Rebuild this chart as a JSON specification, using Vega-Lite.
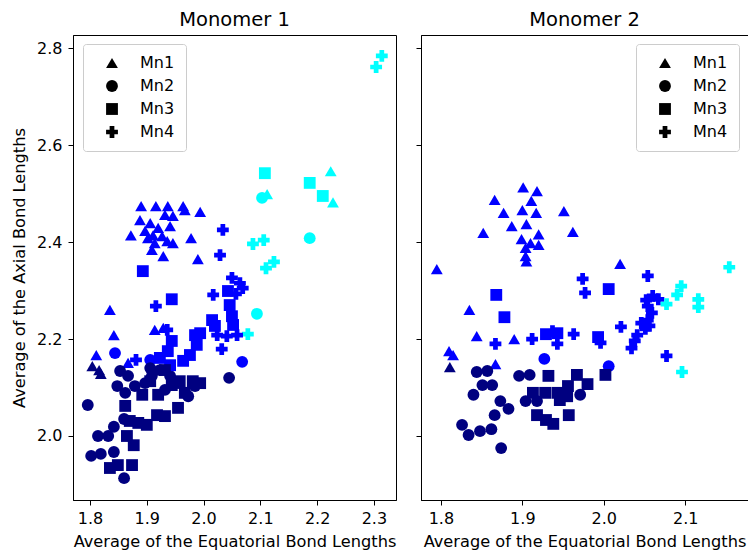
{
 "$schema": "https://vega.github.io/schema/vega-lite/v6.json",
 "padding": {"left": 11, "top": 9, "right": 0, "bottom": 0},
 "bounds": "flush",
 "spacing": 25,
 "datasets": {
  "pts": [
   {"p":1,"site":"Mn1","g":"b","x":1.890,"y":2.474},{"p":1,"site":"Mn1","g":"b","x":1.916,"y":2.474},{"p":1,"site":"Mn1","g":"b","x":1.937,"y":2.474},{"p":1,"site":"Mn1","g":"b","x":1.964,"y":2.474},{"p":1,"site":"Mn1","g":"b","x":1.967,"y":2.466},{"p":1,"site":"Mn1","g":"b","x":1.994,"y":2.462},{"p":1,"site":"Mn1","g":"b","x":1.888,"y":2.445},{"p":1,"site":"Mn1","g":"b","x":1.906,"y":2.439},{"p":1,"site":"Mn1","g":"b","x":1.932,"y":2.456},{"p":1,"site":"Mn1","g":"b","x":1.946,"y":2.454},{"p":1,"site":"Mn1","g":"b","x":1.872,"y":2.414},{"p":1,"site":"Mn1","g":"b","x":1.897,"y":2.423},{"p":1,"site":"Mn1","g":"b","x":1.911,"y":2.414},{"p":1,"site":"Mn1","g":"b","x":1.927,"y":2.412},{"p":1,"site":"Mn1","g":"b","x":1.936,"y":2.402},{"p":1,"site":"Mn1","g":"b","x":1.946,"y":2.398},{"p":1,"site":"Mn1","g":"b","x":1.978,"y":2.408},{"p":1,"site":"Mn1","g":"b","x":1.909,"y":2.384},{"p":1,"site":"Mn1","g":"b","x":1.929,"y":2.371},{"p":1,"site":"Mn1","g":"b","x":1.990,"y":2.365},{"p":1,"site":"Mn1","g":"b","x":1.902,"y":2.408},{"p":1,"site":"Mn1","g":"b","x":1.920,"y":2.429},{"p":1,"site":"Mn1","g":"b","x":1.941,"y":2.433},{"p":1,"site":"Mn1","g":"b","x":1.914,"y":2.398},
   {"p":1,"site":"Mn1","g":"b","x":1.835,"y":2.260},{"p":1,"site":"Mn1","g":"b","x":1.842,"y":2.208},{"p":1,"site":"Mn1","g":"b","x":1.811,"y":2.167},{"p":1,"site":"Mn1","g":"b","x":1.867,"y":2.151},{"p":1,"site":"Mn1","g":"b","x":1.914,"y":2.219},{"p":1,"site":"Mn1","g":"b","x":1.929,"y":2.223},
   {"p":1,"site":"Mn1","g":"n","x":1.804,"y":2.144},{"p":1,"site":"Mn1","g":"n","x":1.816,"y":2.136},{"p":1,"site":"Mn1","g":"n","x":1.819,"y":2.128},
   {"p":1,"site":"Mn1","g":"c","x":2.224,"y":2.546},{"p":1,"site":"Mn1","g":"c","x":2.228,"y":2.482},{"p":1,"site":"Mn1","g":"c","x":2.112,"y":2.499},
   {"p":1,"site":"Mn2","g":"c","x":2.103,"y":2.491},{"p":1,"site":"Mn2","g":"c","x":2.187,"y":2.408},{"p":1,"site":"Mn2","g":"c","x":2.094,"y":2.252},
   {"p":1,"site":"Mn2","g":"b","x":1.844,"y":2.171},{"p":1,"site":"Mn2","g":"b","x":1.906,"y":2.157},{"p":1,"site":"Mn2","g":"b","x":2.068,"y":2.153},
   {"p":1,"site":"Mn2","g":"n","x":2.045,"y":2.120},{"p":1,"site":"Mn2","g":"n","x":1.796,"y":2.064},{"p":1,"site":"Mn2","g":"n","x":1.814,"y":2.000},{"p":1,"site":"Mn2","g":"n","x":1.832,"y":2.000},{"p":1,"site":"Mn2","g":"n","x":1.842,"y":2.019},{"p":1,"site":"Mn2","g":"n","x":1.802,"y":1.959},{"p":1,"site":"Mn2","g":"n","x":1.819,"y":1.963},{"p":1,"site":"Mn2","g":"n","x":1.842,"y":1.967},{"p":1,"site":"Mn2","g":"n","x":1.860,"y":1.913},{"p":1,"site":"Mn2","g":"n","x":1.853,"y":2.134},{"p":1,"site":"Mn2","g":"n","x":1.848,"y":2.103},{"p":1,"site":"Mn2","g":"n","x":1.860,"y":2.035},{"p":1,"site":"Mn2","g":"n","x":1.867,"y":2.124},{"p":1,"site":"Mn2","g":"n","x":1.879,"y":2.103},{"p":1,"site":"Mn2","g":"n","x":1.897,"y":2.109},{"p":1,"site":"Mn2","g":"n","x":1.909,"y":2.124},{"p":1,"site":"Mn2","g":"n","x":1.923,"y":2.136},{"p":1,"site":"Mn2","g":"n","x":1.941,"y":2.124},{"p":1,"site":"Mn2","g":"n","x":1.955,"y":2.109},{"p":1,"site":"Mn2","g":"n","x":1.973,"y":2.082},{"p":1,"site":"Mn2","g":"n","x":1.985,"y":2.103},{"p":1,"site":"Mn2","g":"n","x":1.862,"y":2.089},{"p":1,"site":"Mn2","g":"n","x":1.932,"y":2.095},{"p":1,"site":"Mn2","g":"n","x":1.906,"y":2.140},
   {"p":1,"site":"Mn3","g":"c","x":2.108,"y":2.542},{"p":1,"site":"Mn3","g":"c","x":2.187,"y":2.522},{"p":1,"site":"Mn3","g":"c","x":2.210,"y":2.495},
   {"p":1,"site":"Mn3","g":"b","x":1.893,"y":2.340},{"p":1,"site":"Mn3","g":"b","x":1.944,"y":2.282},{"p":1,"site":"Mn3","g":"b","x":2.015,"y":2.239},{"p":1,"site":"Mn3","g":"b","x":2.046,"y":2.270},{"p":1,"site":"Mn3","g":"b","x":2.050,"y":2.247},{"p":1,"site":"Mn3","g":"b","x":2.043,"y":2.299},{"p":1,"site":"Mn3","g":"b","x":2.020,"y":2.227},{"p":1,"site":"Mn3","g":"b","x":1.985,"y":2.208},{"p":1,"site":"Mn3","g":"b","x":1.988,"y":2.188},{"p":1,"site":"Mn3","g":"b","x":1.976,"y":2.167},{"p":1,"site":"Mn3","g":"b","x":1.964,"y":2.155},{"p":1,"site":"Mn3","g":"b","x":1.941,"y":2.146},{"p":1,"site":"Mn3","g":"b","x":1.923,"y":2.161},{"p":1,"site":"Mn3","g":"b","x":1.944,"y":2.196},{"p":1,"site":"Mn3","g":"b","x":1.937,"y":2.175},{"p":1,"site":"Mn3","g":"b","x":1.994,"y":2.212},{"p":1,"site":"Mn3","g":"b","x":2.052,"y":2.229},
   {"p":1,"site":"Mn3","g":"n","x":1.862,"y":2.062},{"p":1,"site":"Mn3","g":"n","x":1.870,"y":2.031},{"p":1,"site":"Mn3","g":"n","x":1.885,"y":2.027},{"p":1,"site":"Mn3","g":"n","x":1.900,"y":2.023},{"p":1,"site":"Mn3","g":"n","x":1.865,"y":2.000},{"p":1,"site":"Mn3","g":"n","x":1.877,"y":1.981},{"p":1,"site":"Mn3","g":"n","x":1.835,"y":1.934},{"p":1,"site":"Mn3","g":"n","x":1.849,"y":1.940},{"p":1,"site":"Mn3","g":"n","x":1.874,"y":1.940},{"p":1,"site":"Mn3","g":"n","x":1.918,"y":2.043},{"p":1,"site":"Mn3","g":"n","x":1.932,"y":2.041},{"p":1,"site":"Mn3","g":"n","x":1.920,"y":2.085},{"p":1,"site":"Mn3","g":"n","x":1.955,"y":2.058},{"p":1,"site":"Mn3","g":"n","x":1.944,"y":2.105},{"p":1,"site":"Mn3","g":"n","x":1.892,"y":2.085},{"p":1,"site":"Mn3","g":"n","x":1.906,"y":2.113},{"p":1,"site":"Mn3","g":"n","x":1.932,"y":2.136},{"p":1,"site":"Mn3","g":"n","x":1.958,"y":2.113},{"p":1,"site":"Mn3","g":"n","x":1.981,"y":2.113},{"p":1,"site":"Mn3","g":"n","x":1.994,"y":2.109},{"p":1,"site":"Mn3","g":"n","x":1.967,"y":2.089},
   {"p":1,"site":"Mn4","g":"c","x":2.314,"y":2.784},{"p":1,"site":"Mn4","g":"c","x":2.304,"y":2.761},{"p":1,"site":"Mn4","g":"c","x":2.087,"y":2.396},{"p":1,"site":"Mn4","g":"c","x":2.106,"y":2.404},{"p":1,"site":"Mn4","g":"c","x":2.110,"y":2.346},{"p":1,"site":"Mn4","g":"c","x":2.124,"y":2.359},{"p":1,"site":"Mn4","g":"c","x":2.078,"y":2.210},
   {"p":1,"site":"Mn4","g":"b","x":2.034,"y":2.425},{"p":1,"site":"Mn4","g":"b","x":2.029,"y":2.373},{"p":1,"site":"Mn4","g":"b","x":1.916,"y":2.268},{"p":1,"site":"Mn4","g":"b","x":2.017,"y":2.291},{"p":1,"site":"Mn4","g":"b","x":2.050,"y":2.326},{"p":1,"site":"Mn4","g":"b","x":2.064,"y":2.315},{"p":1,"site":"Mn4","g":"b","x":2.069,"y":2.305},{"p":1,"site":"Mn4","g":"b","x":2.032,"y":2.179},{"p":1,"site":"Mn4","g":"b","x":2.024,"y":2.208},{"p":1,"site":"Mn4","g":"b","x":2.041,"y":2.206},{"p":1,"site":"Mn4","g":"b","x":2.059,"y":2.208},{"p":1,"site":"Mn4","g":"b","x":1.881,"y":2.157},{"p":1,"site":"Mn4","g":"b","x":1.936,"y":2.219},{"p":1,"site":"Mn4","g":"b","x":2.057,"y":2.293},
   {"p":2,"site":"Mn1","g":"b","x":1.901,"y":2.513},{"p":2,"site":"Mn1","g":"b","x":1.918,"y":2.505},{"p":2,"site":"Mn1","g":"b","x":1.866,"y":2.487},{"p":2,"site":"Mn1","g":"b","x":1.911,"y":2.485},{"p":2,"site":"Mn1","g":"b","x":1.877,"y":2.460},{"p":2,"site":"Mn1","g":"b","x":1.900,"y":2.466},{"p":2,"site":"Mn1","g":"b","x":1.917,"y":2.460},{"p":2,"site":"Mn1","g":"b","x":1.951,"y":2.464},{"p":2,"site":"Mn1","g":"b","x":1.887,"y":2.433},{"p":2,"site":"Mn1","g":"b","x":1.905,"y":2.437},{"p":2,"site":"Mn1","g":"b","x":1.852,"y":2.419},{"p":2,"site":"Mn1","g":"b","x":1.962,"y":2.421},{"p":2,"site":"Mn1","g":"b","x":1.899,"y":2.406},{"p":2,"site":"Mn1","g":"b","x":1.920,"y":2.416},{"p":2,"site":"Mn1","g":"b","x":1.910,"y":2.398},{"p":2,"site":"Mn1","g":"b","x":1.920,"y":2.394},{"p":2,"site":"Mn1","g":"b","x":1.904,"y":2.388},{"p":2,"site":"Mn1","g":"b","x":1.904,"y":2.371},{"p":2,"site":"Mn1","g":"b","x":1.905,"y":2.360},{"p":2,"site":"Mn1","g":"b","x":1.795,"y":2.344},{"p":2,"site":"Mn1","g":"b","x":1.835,"y":2.260},{"p":2,"site":"Mn1","g":"b","x":1.844,"y":2.206},{"p":2,"site":"Mn1","g":"b","x":1.890,"y":2.200},{"p":2,"site":"Mn1","g":"b","x":1.810,"y":2.175},{"p":2,"site":"Mn1","g":"b","x":1.815,"y":2.167},{"p":2,"site":"Mn1","g":"b","x":1.867,"y":2.148},{"p":2,"site":"Mn1","g":"b","x":2.020,"y":2.355},
   {"p":2,"site":"Mn1","g":"n","x":1.811,"y":2.142},
   {"p":2,"site":"Mn2","g":"b","x":1.927,"y":2.159},{"p":2,"site":"Mn2","g":"b","x":2.006,"y":2.144},
   {"p":2,"site":"Mn2","g":"n","x":1.844,"y":2.132},{"p":2,"site":"Mn2","g":"n","x":1.857,"y":2.134},{"p":2,"site":"Mn2","g":"n","x":1.863,"y":2.105},{"p":2,"site":"Mn2","g":"n","x":1.851,"y":2.105},{"p":2,"site":"Mn2","g":"n","x":1.840,"y":2.085},{"p":2,"site":"Mn2","g":"n","x":1.873,"y":2.072},{"p":2,"site":"Mn2","g":"n","x":1.883,"y":2.056},{"p":2,"site":"Mn2","g":"n","x":1.866,"y":2.043},{"p":2,"site":"Mn2","g":"n","x":1.826,"y":2.023},{"p":2,"site":"Mn2","g":"n","x":1.834,"y":2.002},{"p":2,"site":"Mn2","g":"n","x":1.848,"y":2.010},{"p":2,"site":"Mn2","g":"n","x":1.862,"y":2.014},{"p":2,"site":"Mn2","g":"n","x":1.874,"y":1.975},{"p":2,"site":"Mn2","g":"n","x":1.896,"y":2.124},{"p":2,"site":"Mn2","g":"n","x":1.909,"y":2.126},{"p":2,"site":"Mn2","g":"n","x":1.904,"y":2.072},{"p":2,"site":"Mn2","g":"n","x":1.918,"y":2.072},{"p":2,"site":"Mn2","g":"n","x":1.971,"y":2.085},
   {"p":2,"site":"Mn3","g":"b","x":1.868,"y":2.291},{"p":2,"site":"Mn3","g":"b","x":1.878,"y":2.245},{"p":2,"site":"Mn3","g":"b","x":1.929,"y":2.210},{"p":2,"site":"Mn3","g":"b","x":1.943,"y":2.212},{"p":2,"site":"Mn3","g":"b","x":1.993,"y":2.204},{"p":2,"site":"Mn3","g":"b","x":2.006,"y":2.303},
   {"p":2,"site":"Mn3","g":"n","x":1.932,"y":2.124},{"p":2,"site":"Mn3","g":"n","x":1.967,"y":2.126},{"p":2,"site":"Mn3","g":"n","x":1.980,"y":2.107},{"p":2,"site":"Mn3","g":"n","x":1.913,"y":2.089},{"p":2,"site":"Mn3","g":"n","x":1.928,"y":2.089},{"p":2,"site":"Mn3","g":"n","x":1.943,"y":2.089},{"p":2,"site":"Mn3","g":"n","x":1.956,"y":2.103},{"p":2,"site":"Mn3","g":"n","x":1.918,"y":2.043},{"p":2,"site":"Mn3","g":"n","x":1.929,"y":2.033},{"p":2,"site":"Mn3","g":"n","x":1.938,"y":2.025},{"p":2,"site":"Mn3","g":"n","x":1.957,"y":2.043},{"p":2,"site":"Mn3","g":"n","x":1.955,"y":2.082},{"p":2,"site":"Mn3","g":"n","x":2.002,"y":2.126},{"p":2,"site":"Mn3","g":"n","x":1.946,"y":2.074},
   {"p":2,"site":"Mn4","g":"b","x":1.974,"y":2.324},{"p":2,"site":"Mn4","g":"b","x":1.977,"y":2.295},{"p":2,"site":"Mn4","g":"b","x":1.867,"y":2.190},{"p":2,"site":"Mn4","g":"b","x":1.912,"y":2.200},{"p":2,"site":"Mn4","g":"b","x":1.937,"y":2.216},{"p":2,"site":"Mn4","g":"b","x":1.943,"y":2.190},{"p":2,"site":"Mn4","g":"b","x":1.963,"y":2.210},{"p":2,"site":"Mn4","g":"b","x":2.054,"y":2.330},{"p":2,"site":"Mn4","g":"b","x":2.077,"y":2.165},{"p":2,"site":"Mn4","g":"b","x":2.021,"y":2.225},{"p":2,"site":"Mn4","g":"b","x":1.996,"y":2.192},{"p":2,"site":"Mn4","g":"b","x":2.052,"y":2.280},{"p":2,"site":"Mn4","g":"b","x":2.060,"y":2.289},{"p":2,"site":"Mn4","g":"b","x":2.067,"y":2.282},{"p":2,"site":"Mn4","g":"b","x":2.054,"y":2.268},{"p":2,"site":"Mn4","g":"b","x":2.059,"y":2.254},{"p":2,"site":"Mn4","g":"b","x":2.054,"y":2.239},{"p":2,"site":"Mn4","g":"b","x":2.046,"y":2.233},{"p":2,"site":"Mn4","g":"b","x":2.056,"y":2.227},{"p":2,"site":"Mn4","g":"b","x":2.041,"y":2.208},{"p":2,"site":"Mn4","g":"b","x":2.038,"y":2.196},{"p":2,"site":"Mn4","g":"b","x":2.034,"y":2.181},{"p":2,"site":"Mn4","g":"b","x":2.051,"y":2.221},
   {"p":2,"site":"Mn4","g":"c","x":2.154,"y":2.348},{"p":2,"site":"Mn4","g":"c","x":2.095,"y":2.309},{"p":2,"site":"Mn4","g":"c","x":2.090,"y":2.291},{"p":2,"site":"Mn4","g":"c","x":2.077,"y":2.272},{"p":2,"site":"Mn4","g":"c","x":2.116,"y":2.282},{"p":2,"site":"Mn4","g":"c","x":2.116,"y":2.266},{"p":2,"site":"Mn4","g":"c","x":2.096,"y":2.132}
  ]
 },
 "config": {
  "font": "DejaVu Sans",
  "view": {"stroke": "black", "strokeWidth": 1},
  "axis": {"grid": false, "domainColor": "black", "tickColor": "black", "labelColor": "black", "titleColor": "black", "labelFontSize": 16, "titleFontSize": 16.2, "titleFontWeight": "normal", "tickSize": 5, "labelPadding": 5, "titlePadding": 7, "labelFont": "DejaVu Sans", "titleFont": "DejaVu Sans"},
  "axisY": {"labelPadding": 6, "titlePadding": 9},
  "title": {"fontSize": 19.5, "fontWeight": "normal", "font": "DejaVu Sans", "color": "black", "offset": 5}
 },
 "resolve": {"scale": {"x": "independent"}, "legend": {"shape": "independent"}},
 "hconcat": [
  {
   "width": 323, "height": 465,
   "title": "Monomer 1",
   "data": {"name": "pts"},
   "transform": [{"filter": "datum.p == 1"}],
   "mark": {"type": "point", "filled": true, "opacity": 1, "size": 140, "strokeWidth": 0},
   "encoding": {
    "x": {"field": "x", "type": "quantitative", "scale": {"domain": [1.770, 2.339], "nice": false, "zero": false}, "axis": {"title": "Average of the Equatorial Bond Lengths", "values": [1.8, 1.9, 2.0, 2.1, 2.2, 2.3], "format": ".1f"}},
    "y": {"field": "y", "type": "quantitative", "scale": {"domain": [1.868, 2.827], "nice": false, "zero": false}, "axis": {"title": "Average of the Axial Bond Lengths", "values": [2.0, 2.2, 2.4, 2.6, 2.8], "format": ".1f"}},
    "shape": {"field": "site", "type": "nominal", "scale": {"domain": ["Mn1", "Mn2", "Mn3", "Mn4"], "range": ["triangle-up", "circle", "square", "cross"]}, "legend": {"orient": "none", "legendX": 10, "legendY": 9, "title": null, "padding": 11, "symbolOffset": 10, "labelOffset": 20, "symbolSize": 140, "rowPadding": 7, "labelFontSize": 16, "labelFont": "DejaVu Sans", "labelColor": "black", "strokeColor": "#cccccc", "fillColor": "white", "cornerRadius": 3, "symbolFillColor": "black", "symbolStrokeColor": "black", "symbolStrokeWidth": 0, "symbolOpacity": 1}},
    "color": {"field": "g", "type": "nominal", "scale": {"domain": ["n", "b", "c"], "range": ["#000080", "#0000ff", "#00ffff"]}, "legend": null}
   }
  },
  {
   "width": 327, "height": 465,
   "title": "Monomer 2",
   "data": {"name": "pts"},
   "transform": [{"filter": "datum.p == 2"}],
   "mark": {"type": "point", "filled": true, "opacity": 1, "size": 140, "strokeWidth": 0},
   "encoding": {
    "x": {"field": "x", "type": "quantitative", "scale": {"domain": [1.7756, 2.177], "nice": false, "zero": false}, "axis": {"title": "Average of the Equatorial Bond Lengths", "values": [1.8, 1.9, 2.0, 2.1], "format": ".1f"}},
    "y": {"field": "y", "type": "quantitative", "scale": {"domain": [1.868, 2.827], "nice": false, "zero": false}, "axis": {"title": null, "labels": false, "values": [2.0, 2.2, 2.4, 2.6, 2.8]}},
    "shape": {"field": "site", "type": "nominal", "scale": {"domain": ["Mn1", "Mn2", "Mn3", "Mn4"], "range": ["triangle-up", "circle", "square", "cross"]}, "legend": {"orient": "top-right", "title": null, "padding": 11, "symbolOffset": 10, "labelOffset": 20, "symbolSize": 140, "rowPadding": 7, "labelFontSize": 16, "labelFont": "DejaVu Sans", "labelColor": "black", "strokeColor": "#cccccc", "fillColor": "white", "cornerRadius": 3, "symbolFillColor": "black", "symbolStrokeColor": "black", "symbolStrokeWidth": 0, "symbolOpacity": 1, "offset": 9}},
    "color": {"field": "g", "type": "nominal", "scale": {"domain": ["n", "b", "c"], "range": ["#000080", "#0000ff", "#00ffff"]}, "legend": null}
   }
  }
 ]
}
